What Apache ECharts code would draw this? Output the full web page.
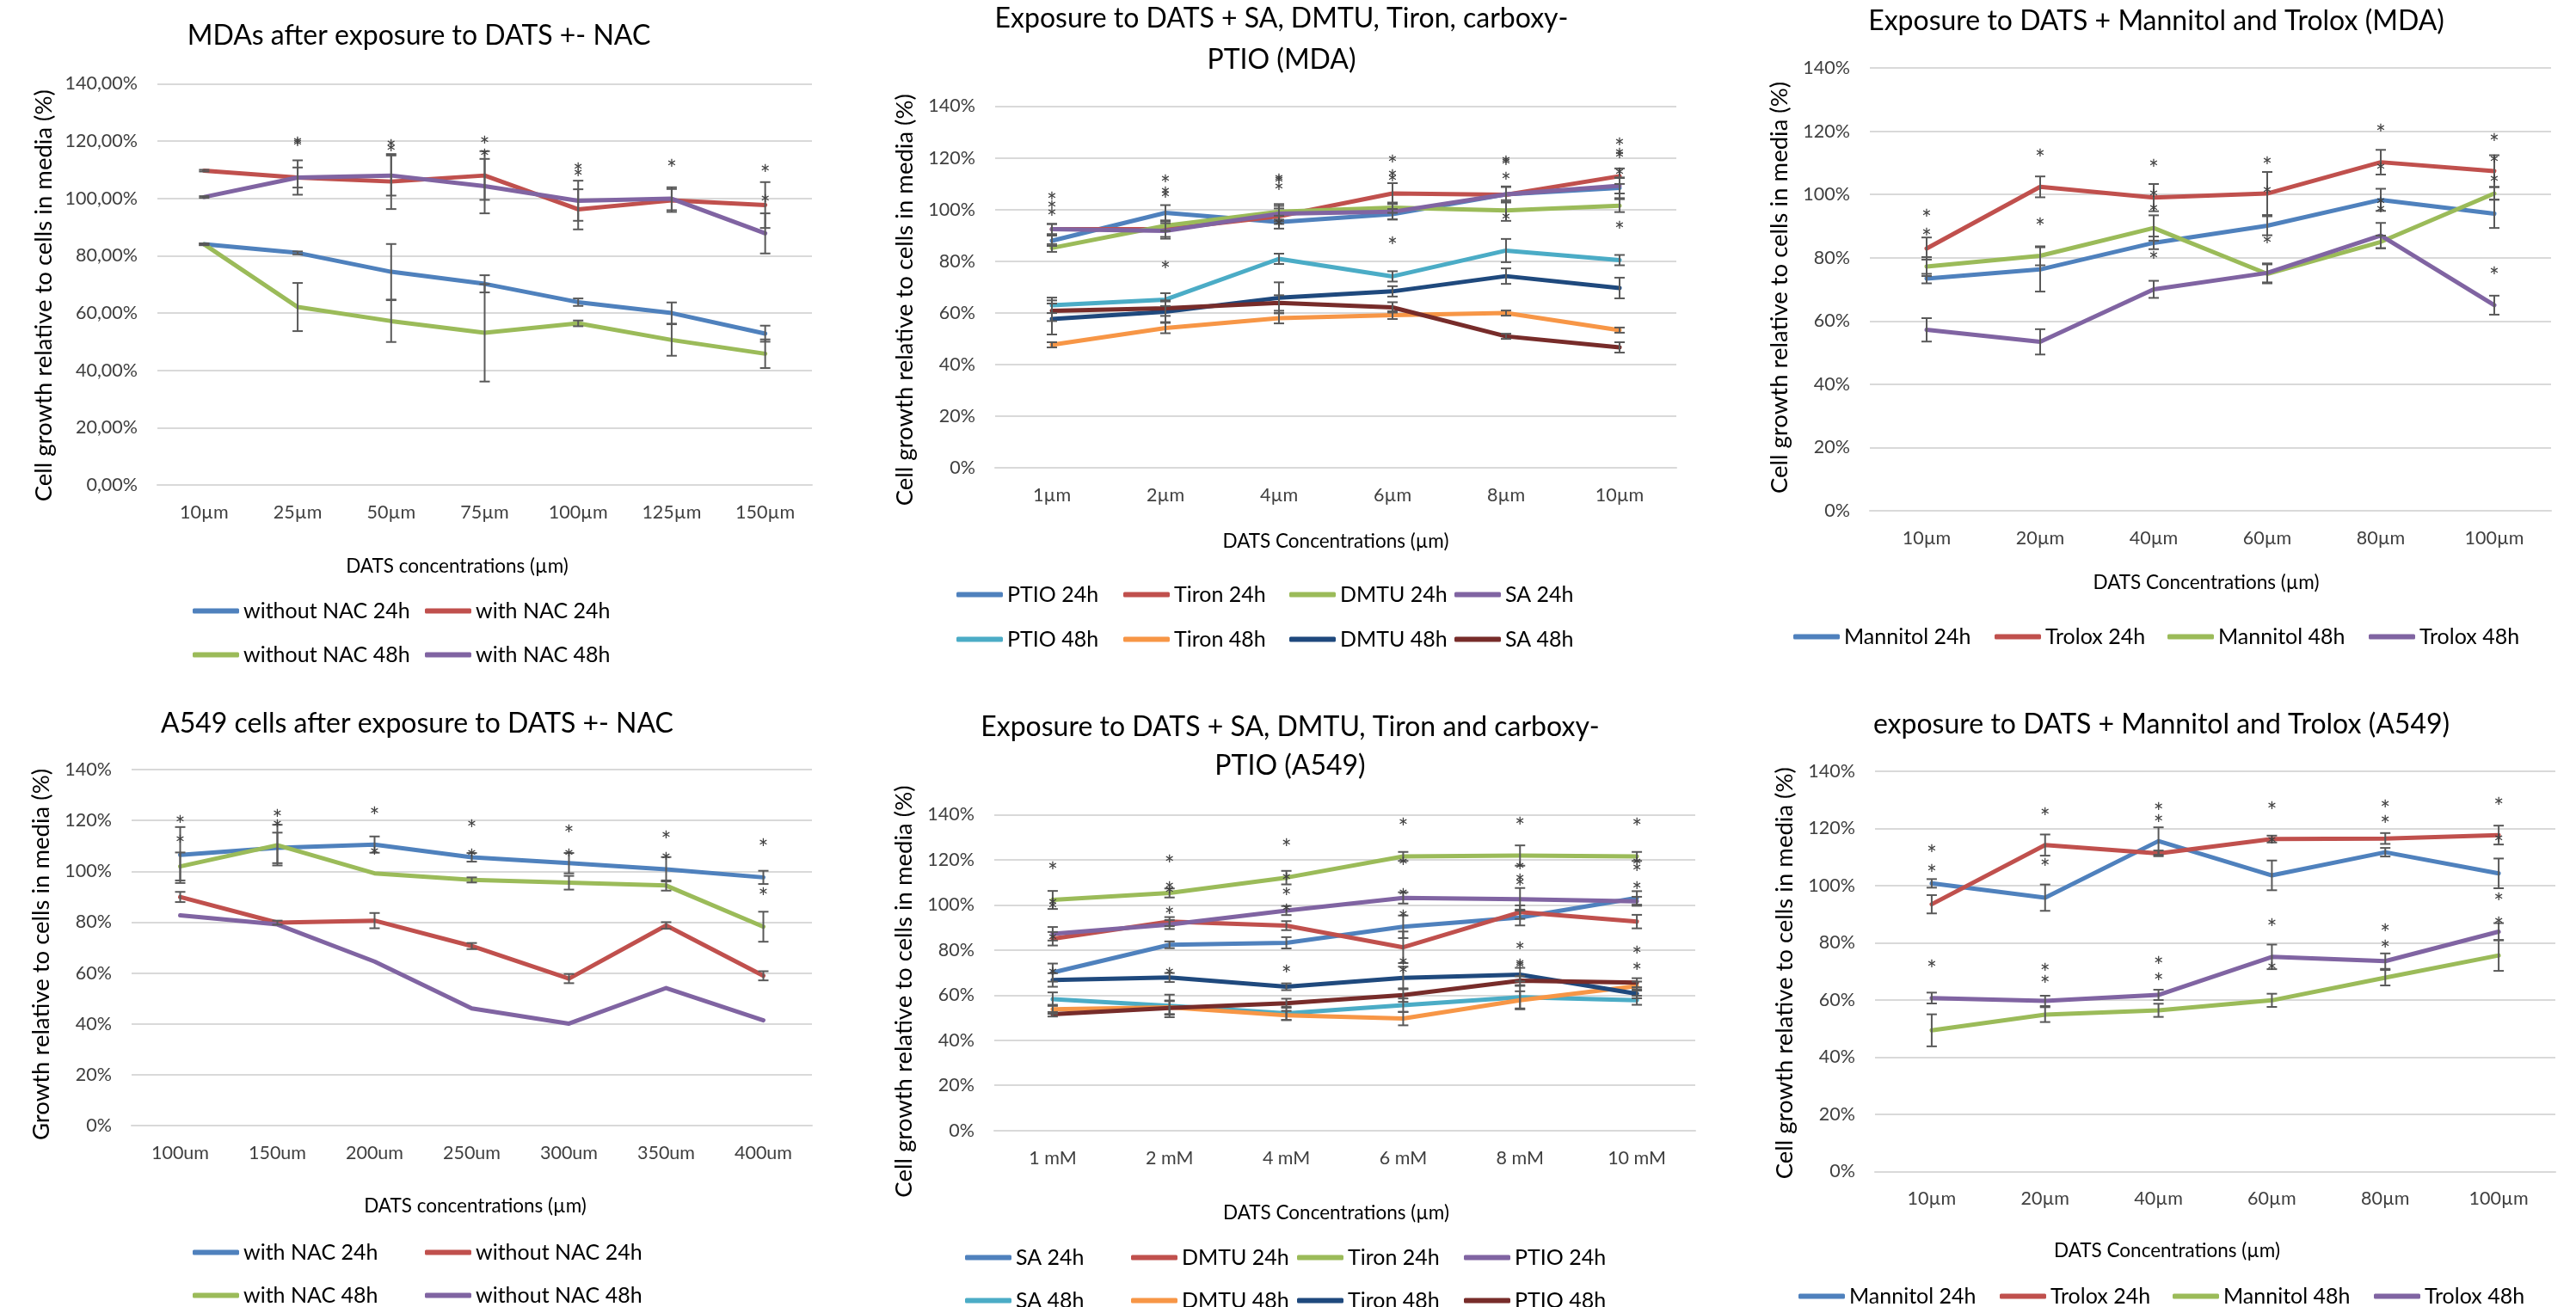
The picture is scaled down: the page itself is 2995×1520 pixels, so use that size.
<!DOCTYPE html>
<html>
<head>
<meta charset="utf-8">
<script src="https://cdn.jsdelivr.net/npm/echarts@6/dist/echarts.min.js"></script>
<style>
html,body{margin:0;padding:0;background:#fff;}
#page{position:relative;width:2995px;height:1520px;background:#fff;overflow:hidden;}
.pnl{position:absolute;}
</style>
</head>
<body>
<div id="page"></div>
<script>
// ---------------- DATA ----------------
const pctTickLabels = ['0%','20%','40%','60%','80%','100%','120%','140%'];
const p1YTickLabels = ['0,00%','20,00%','40,00%','60,00%','80,00%','100,00%','120,00%','140,00%'];

// Panel 1 : MDAs after exposure to DATS +- NAC
const p1Categories = ['10µm','25µm','50µm','75µm','100µm','125µm','150µm'];
const p1WithoutNac24 = [84.0, 81.0, 74.4, 70.2, 63.8, 60.0, 52.8];
const p1WithNac24    = [109.7, 107.3, 105.9, 108.0, 96.2, 99.3, 97.7];
const p1WithoutNac48 = [84.0, 62.1, 57.2, 53.1, 56.4, 50.6, 45.8];
const p1WithNac48    = [100.5, 107.3, 108.0, 104.3, 99.2, 99.9, 87.8];
const p1WithoutNac24Err = [0.3, 0.5, 9.7, 3, 1.3, 3.7, 2.8];
const p1WithNac24Err    = [0.3, 6, 9.6, 8.5, 7, 4, 8];
const p1WithoutNac48Err = [0.3, 8.4, 7.3, 17, 1, 5.5, 5];
const p1WithNac48Err    = [0.3, 3.5, 7, 9.5, 7, 4, 7];
const p1Stars = [[1,119.7],[1,119.2],[2,119],[2,117.5],[3,120.2],[3,115.7],[4,110.7],[4,108.5],[5,111.8],[6,110],[6,99.5]];

// Panel 2 : Exposure to DATS + SA, DMTU, Tiron, carboxy-PTIO (MDA)
const p2Categories = ['1µm','2µm','4µm','6µm','8µm','10µm'];
const p2Ptio24  = [87.9, 98.7, 95.1, 98.2, 105.9, 108.4];
const p2Tiron24 = [92.4, 92.4, 97.4, 106.2, 105.7, 112.9];
const p2Dmtu24  = [85.1, 93.7, 99.1, 100.7, 99.6, 101.5];
const p2Sa24    = [92.4, 91.7, 98.4, 99.1, 105.9, 109.2];
const p2Ptio48  = [62.9, 65.1, 80.9, 74.1, 84.1, 80.4];
const p2Tiron48 = [47.6, 54.1, 57.9, 59.1, 59.9, 53.3];
const p2Dmtu48  = [57.6, 60.4, 65.8, 68.3, 74.2, 69.6];
const p2Sa48    = [60.8, 61.8, 63.8, 62.1, 50.9, 46.6];
const p2Ptio24Err  = [2, 3, 2.5, 2, 3, 4];
const p2Tiron24Err = [2, 3, 3, 4, 3, 3];
const p2Dmtu24Err  = [1.5, 2, 3, 2, 4, 2.5];
const p2Sa24Err    = [2, 3, 3, 3, 3, 3];
const p2Ptio48Err  = [3, 2.5, 2, 2, 4.5, 2];
const p2Tiron48Err = [1, 2, 2, 1.5, 1, 1];
const p2Dmtu48Err  = [6, 4, 6, 2, 3, 4];
const p2Sa48Err    = [4, 3, 3, 2, 1, 2];
const p2Stars = [[0,105],[0,101.5],[0,98.4],[1,111.5],[1,107],[1,105.4],[1,78.2],[2,112],[2,111.2],[2,108.4],[2,94.6],[3,119.2],[3,113.4],[3,112],[3,87.6],[4,119],[4,118.2],[4,112.5],[4,97],[5,125.9],[5,122],[5,120.9],[5,114.2],[5,93.4]];

// Panel 3 : Exposure to DATS + Mannitol and Trolox (MDA)
const p3Categories = ['10µm','20µm','40µm','60µm','80µm','100µm'];
const p3Mannitol24 = [73.4, 76.3, 84.7, 90.1, 98.3, 93.9];
const p3Trolox24   = [82.9, 102.4, 99.0, 100.3, 110.2, 107.4];
const p3Mannitol48 = [77.2, 80.6, 89.4, 74.9, 85.0, 100.3];
const p3Trolox48   = [57.2, 53.4, 70.0, 75.2, 87.0, 65.0];
const p3Mannitol24Err = [1.5, 7, 2, 3, 3.5, 4.5];
const p3Trolox24Err   = [3.5, 3.3, 4.3, 6.8, 3.9, 5];
const p3Mannitol48Err = [3, 3, 4, 3, 2, 2];
const p3Trolox48Err   = [3.7, 4, 2.7, 3, 4, 3];
const p3Stars = [[0,93.8],[0,87.7],[1,112.8],[1,91.2],[2,109.6],[2,100],[2,95.3],[2,80.6],[3,110.5],[3,101],[3,85.4],[4,120.7],[4,108.5],[4,97.7],[4,95.1],[5,117.7],[5,110.9],[5,104.7],[5,75.6]];

// Panel 4 : A549 cells after exposure to DATS +- NAC
const p4Categories = ['100um','150um','200um','250um','300um','350um','400um'];
const p4WithNac24    = [106.4, 109.2, 110.5, 105.5, 103.2, 100.8, 97.6];
const p4WithoutNac24 = [89.9, 79.8, 80.6, 70.6, 57.8, 78.7, 58.9];
const p4WithNac48    = [101.9, 110.3, 99.2, 96.6, 95.5, 94.4, 78.2];
const p4WithoutNac48 = [82.7, 79.1, 64.5, 46.1, 40.1, 54.1, 41.4];
const p4WithNac24Err    = [11, 6, 3.2, 1.7, 4, 4.8, 2.6];
const p4WithoutNac24Err = [2, 0.8, 3, 1.2, 1.8, 1.3, 1.8];
const p4WithNac48Err    = [5.5, 8, 0, 1, 2.7, 2, 5.9];
const p4WithoutNac48Err = [0, 0, 0, 0, 0, 0, 0];
const p4Stars = [[0,120],[0,112.4],[1,122.3],[1,118.5],[2,123.6],[2,107.6],[3,118.5],[3,106.8],[4,116.4],[4,106.8],[5,114],[5,105.5],[6,110.8],[6,91.5]];

// Panel 5 : Exposure to DATS + SA, DMTU, Tiron and carboxy-PTIO (A549)
const p5Categories = ['1 mM','2 mM','4 mM','6 mM','8 mM','10 mM'];
const p5Sa24    = [70.0, 82.3, 83.2, 90.3, 94.4, 103.1];
const p5Dmtu24  = [85.0, 92.6, 90.8, 81.2, 96.8, 92.6];
const p5Tiron24 = [102.2, 105.3, 112.1, 121.5, 121.9, 121.5];
const p5Ptio24  = [87.2, 91.3, 97.5, 103.1, 102.5, 101.6];
const p5Sa48    = [58.2, 55.2, 51.9, 55.5, 59.1, 57.7];
const p5Dmtu48  = [53.7, 54.6, 51.0, 49.6, 57.7, 64.0];
const p5Tiron48 = [66.7, 67.8, 63.7, 67.6, 69.1, 60.6];
const p5Ptio48  = [51.5, 54.3, 56.4, 60.0, 66.4, 65.5];
const p5Sa24Err    = [4, 1.5, 2.5, 5, 3.5, 3];
const p5Dmtu24Err  = [3, 2, 2, 7, 3, 3];
const p5Tiron24Err = [4, 2, 3, 2, 4.5, 2];
const p5Ptio24Err  = [3, 2, 2, 2.5, 5, 2];
const p5Sa48Err    = [3, 5, 3, 3, 5, 2];
const p5Dmtu48Err  = [2, 3, 2, 3, 4, 2];
const p5Tiron48Err = [3, 2, 1.5, 5, 3, 2];
const p5Ptio48Err  = [1, 3, 2, 3, 2, 2];
const p5Stars = [[0,117],[0,101.1],[0,99.3],[0,85.4],[0,70],[1,120.1],[1,108],[1,106.2],[1,97.1],[1,70],[2,127.3],[2,112.1],[2,105.6],[2,98.4],[2,71.3],[3,136.4],[3,118.8],[3,105.3],[3,95.7],[3,74.5],[3,70.9],[4,136.6],[4,117],[4,111.6],[4,109.8],[4,81.4],[4,74],[4,73.2],[5,136.4],[5,118.8],[5,116.1],[5,108],[5,79.4],[5,72.3]];

// Panel 6 : exposure to DATS + Mannitol and Trolox (A549)
const p6Categories = ['10µm','20µm','40µm','60µm','80µm','100µm'];
const p6Mannitol24 = [100.8, 95.8, 115.6, 103.6, 111.7, 104.3];
const p6Trolox24   = [93.5, 114.2, 111.3, 116.3, 116.5, 117.7];
const p6Mannitol48 = [49.4, 54.9, 56.4, 59.9, 67.8, 75.6];
const p6Trolox48   = [60.7, 59.7, 61.8, 75.1, 73.6, 83.9];
const p6Mannitol24Err = [1.5, 4.6, 4.8, 5.2, 1.5, 5.2];
const p6Trolox24Err   = [3.2, 3.7, 1, 1.2, 1.9, 3.3];
const p6Mannitol48Err = [5.6, 2.6, 2.3, 2.3, 2.7, 5.4];
const p6Trolox48Err   = [1.9, 1.8, 1.8, 4.3, 2.7, 3];
const p6Stars = [[0,112.5],[0,105.6],[0,72.2],[1,125.6],[1,107.7],[1,71.1],[1,66.8],[2,127.4],[2,123.2],[2,73.5],[2,67.9],[3,127.7],[3,115.6],[3,86.8],[3,71.5],[4,128.2],[4,122.9],[4,85.1],[4,79.2],[5,129.3],[5,116.3],[5,95.8],[5,87.5]];

// ---------------- STYLE ----------------
const FONT = 'Lato, "Open Sans", "Liberation Sans", sans-serif';
const C = {blue:'#4F81BD', red:'#C0504D', green:'#9BBB59', purple:'#8064A2',
           cyan:'#4BACC6', orange:'#F79646', navy:'#1F497D', maroon:'#772C2A'};

const panels = [
  { box:[0,0,1000,800], grid:[183,97.5,944,564], cats:p1Categories, yLabels:p1YTickLabels,
    title:[{t:'MDAs after exposure to DATS +- NAC', x:487, y:42}],
    xName:'DATS concentrations (µm)', xGap:83, xShift:-32, yName:'Cell growth relative to cells in media (%)', yGap:117, yShift:13,
    series:[
      {name:'without NAC 24h', color:C.blue, data:p1WithoutNac24, err:p1WithoutNac24Err},
      {name:'with NAC 24h', color:C.red, data:p1WithNac24, err:p1WithNac24Err},
      {name:'without NAC 48h', color:C.green, data:p1WithoutNac48, err:p1WithoutNac48Err},
      {name:'with NAC 48h', color:C.purple, data:p1WithNac48, err:p1WithNac48Err}],
    legend:[[224,711],[494,711],[224,762],[494,762]], stars:p1Stars },
  { box:[1000,0,1000,800], grid:[1157,123.5,1949,544], cats:p2Categories, yLabels:pctTickLabels,
    title:[{t:'Exposure to DATS + SA, DMTU, Tiron, carboxy-', x:1490, y:22},{t:'PTIO (MDA)', x:1490, y:70}],
    xName:'DATS Concentrations (µm)', xGap:74, xShift:0, yName:'Cell growth relative to cells in media (%)', yGap:91, yShift:15,
    series:[
      {name:'PTIO 24h', color:C.blue, data:p2Ptio24, err:p2Ptio24Err},
      {name:'Tiron 24h', color:C.red, data:p2Tiron24, err:p2Tiron24Err},
      {name:'DMTU 24h', color:C.green, data:p2Dmtu24, err:p2Dmtu24Err},
      {name:'SA 24h', color:C.purple, data:p2Sa24, err:p2Sa24Err},
      {name:'PTIO 48h', color:C.cyan, data:p2Ptio48, err:p2Ptio48Err},
      {name:'Tiron 48h', color:C.orange, data:p2Tiron48, err:p2Tiron48Err},
      {name:'DMTU 48h', color:C.navy, data:p2Dmtu48, err:p2Dmtu48Err},
      {name:'SA 48h', color:C.maroon, data:p2Sa48, err:p2Sa48Err}],
    legend:[[1112,692],[1306,692],[1499,692],[1691,692],[1112,744],[1306,744],[1499,744],[1691,744]], stars:p2Stars },
  { box:[2000,0,995,800], grid:[2174,79,2966,594], cats:p3Categories, yLabels:pctTickLabels,
    title:[{t:'Exposure to DATS + Mannitol and Trolox (MDA)', x:2507, y:25}],
    xName:'DATS Concentrations (µm)', xGap:72, xShift:-5, yName:'Cell growth relative to cells in media (%)', yGap:91, yShift:-2,
    series:[
      {name:'Mannitol 24h', color:C.blue, data:p3Mannitol24, err:p3Mannitol24Err},
      {name:'Trolox 24h', color:C.red, data:p3Trolox24, err:p3Trolox24Err},
      {name:'Mannitol 48h', color:C.green, data:p3Mannitol48, err:p3Mannitol48Err},
      {name:'Trolox 48h', color:C.purple, data:p3Trolox48, err:p3Trolox48Err}],
    legend:[[2085,741],[2319,741],[2520,741],[2754,741]], stars:p3Stars },
  { box:[0,790,1000,730], grid:[153,895,944,1309], cats:p4Categories, yLabels:pctTickLabels,
    title:[{t:'A549 cells after exposure to DATS +- NAC', x:485, y:842}],
    xName:'DATS concentrations (µm)', xGap:82, xShift:4, yName:'Growth relative to cells in media (%)', yGap:91, yShift:8,
    series:[
      {name:'with NAC 24h', color:C.blue, data:p4WithNac24, err:p4WithNac24Err},
      {name:'without NAC 24h', color:C.red, data:p4WithoutNac24, err:p4WithoutNac24Err},
      {name:'with NAC 48h', color:C.green, data:p4WithNac48, err:p4WithNac48Err},
      {name:'without NAC 48h', color:C.purple, data:p4WithoutNac48, err:p4WithoutNac48Err}],
    legend:[[224,1457],[494,1457],[224,1507],[494,1507]], stars:p4Stars },
  { box:[1000,790,1000,730], grid:[1156,947.5,1971,1314.6], cats:p5Categories, yLabels:pctTickLabels,
    title:[{t:'Exposure to DATS + SA, DMTU, Tiron and carboxy-', x:1500, y:846},{t:'PTIO (A549)', x:1500, y:891}],
    xName:'DATS Concentrations (µm)', xGap:85, xShift:-10, yName:'Cell growth relative to cells in media (%)', yGap:91, yShift:22,
    series:[
      {name:'SA 24h', color:C.blue, data:p5Sa24, err:p5Sa24Err},
      {name:'DMTU 24h', color:C.red, data:p5Dmtu24, err:p5Dmtu24Err},
      {name:'Tiron 24h', color:C.green, data:p5Tiron24, err:p5Tiron24Err},
      {name:'PTIO 24h', color:C.purple, data:p5Ptio24, err:p5Ptio24Err},
      {name:'SA 48h', color:C.cyan, data:p5Sa48, err:p5Sa48Err},
      {name:'DMTU 48h', color:C.orange, data:p5Dmtu48, err:p5Dmtu48Err},
      {name:'Tiron 48h', color:C.navy, data:p5Tiron48, err:p5Tiron48Err},
      {name:'PTIO 48h', color:C.maroon, data:p5Ptio48, err:p5Ptio48Err}],
    legend:[[1122,1463],[1315,1463],[1508,1463],[1702,1463],[1122,1513],[1315,1513],[1508,1513],[1702,1513]], stars:p5Stars },
  { box:[2000,790,995,730], grid:[2180,897,2971,1362.5], cats:p6Categories, yLabels:pctTickLabels,
    title:[{t:'exposure to DATS + Mannitol and Trolox (A549)', x:2513, y:843}],
    xName:'DATS Concentrations (µm)', xGap:81, xShift:-56, yName:'Cell growth relative to cells in media (%)', yGap:91, yShift:2,
    series:[
      {name:'Mannitol 24h', color:C.blue, data:p6Mannitol24, err:p6Mannitol24Err},
      {name:'Trolox 24h', color:C.red, data:p6Trolox24, err:p6Trolox24Err},
      {name:'Mannitol 48h', color:C.green, data:p6Mannitol48, err:p6Mannitol48Err},
      {name:'Trolox 48h', color:C.purple, data:p6Trolox48, err:p6Trolox48Err}],
    legend:[[2091,1508],[2325,1508],[2526,1508],[2760,1508]], stars:p6Stars }
];

function renderErr(params, api) {
  const i = api.value(0), v = api.value(1), e = api.value(2);
  const top = api.coord([i, v + e]);
  const bot = api.coord([i, v - e]);
  const w = 6;
  const st = {stroke:'#595959', lineWidth:2};
  return {type:'group', children:[
    {type:'line', shape:{x1:top[0], y1:top[1], x2:bot[0], y2:bot[1]}, style:st},
    {type:'line', shape:{x1:top[0]-w, y1:top[1], x2:top[0]+w, y2:top[1]}, style:st},
    {type:'line', shape:{x1:bot[0]-w, y1:bot[1], x2:bot[0]+w, y2:bot[1]}, style:st}
  ]};
}
function renderStar(params, api) {
  const p = api.coord([api.value(0), api.value(1)]);
  return {type:'text', x:p[0], y:p[1] + 7,
    style:{text:'*', textAlign:'center', textVerticalAlign:'middle', fontSize:28, fontFamily:FONT, fill:'#404040'}};
}

function shiftPad(d) { return d >= 0 ? [0, 2 * d, 0, 0] : [0, 0, 0, -2 * d]; }

const page = document.getElementById('page');
panels.forEach(p => {
  const [ox, oy, bw, bh] = p.box;
  const div = document.createElement('div');
  div.className = 'pnl';
  div.style.left = ox + 'px'; div.style.top = oy + 'px';
  div.style.width = bw + 'px'; div.style.height = bh + 'px';
  page.appendChild(div);
  const chart = echarts.init(div, null, {renderer:'canvas', width:bw, height:bh});
  const [gl, gt, gr, gb] = p.grid;
  const series = p.series.map((s, k) => ({
    type:'line', name:s.name, data:s.data, symbol:'none', showSymbol:false,
    lineStyle:{width:5, color:s.color, cap:'round', join:'round'},
    itemStyle:{color:s.color}, z:2, animation:false
  }));
  const errData = [];
  p.series.forEach(s => s.err.forEach((e, i) => { if (e > 0) errData.push([i, s.data[i], e]); }));
  series.push({type:'custom', name:'err', renderItem:renderErr, data:errData, encode:{x:0, y:1}, z:5, silent:true, animation:false});
  series.push({type:'custom', name:'stars', renderItem:renderStar, data:p.stars, encode:{x:0, y:1}, z:6, silent:true, animation:false});
  const legends = p.series.map((s, k) => ({
    data:[s.name], left:p.legend[k][0] - ox, top:p.legend[k][1] - oy - 13,
    icon:'roundRect', itemWidth:54, itemHeight:6, itemGap:0, padding:0, selectedMode:false,
    textStyle:{fontSize:25, fontFamily:FONT, color:'#000'}
  }));
  const graphics = p.title.map(t => ({
    type:'text', x:t.x - ox, y:t.y - oy,
    style:{text:t.t, textAlign:'center', textVerticalAlign:'middle', fontSize:32, fontFamily:FONT, fill:'#000'}
  }));
  // x name: positive shift moves right -> left padding
  const xs = p.xShift;
  const xPad = xs >= 0 ? [0, 0, 0, 2 * xs] : [0, -2 * xs, 0, 0];
  chart.setOption({
    animation:false,
    backgroundColor:'transparent',
    grid:{left:gl - ox, top:gt - oy, width:gr - gl, height:gb - gt, containLabel:false},
    legend:legends,
    graphic:graphics,
    xAxis:{type:'category', data:p.cats, boundaryGap:true,
      axisLine:{show:true, lineStyle:{color:'#D9D9D9', width:2}}, axisTick:{show:false},
      axisLabel:{interval:0, margin:21, fontSize:21.5, fontFamily:FONT, color:'#404040'},
      name:p.xName, nameLocation:'middle', nameGap:p.xGap,
      nameTextStyle:{fontSize:22.5, fontFamily:FONT, color:'#000', padding:xPad}},
    yAxis:{type:'value', min:0, max:140, interval:20,
      axisLine:{show:false}, axisTick:{show:false},
      splitLine:{show:true, lineStyle:{color:'#D9D9D9', width:2}},
      axisLabel:{margin:23, fontSize:21.5, fontFamily:FONT, color:'#404040',
        formatter:(v) => p.yLabels[Math.round(v / 20)]},
      name:p.yName, nameLocation:'middle', nameGap:p.yGap, nameRotate:90,
      nameTextStyle:{fontSize:27.5, fontFamily:FONT, color:'#000', padding:shiftPad(p.yShift)}},
    series:series
  });
});
</script>
</body>
</html>
